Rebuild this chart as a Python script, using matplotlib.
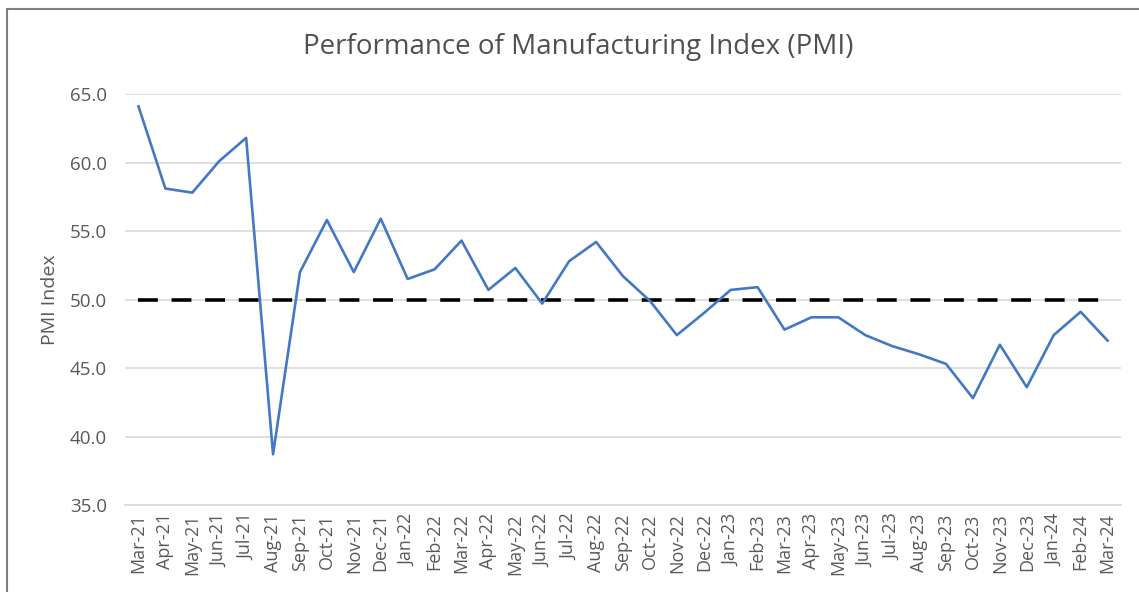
import matplotlib
matplotlib.use('Agg')
from matplotlib import pyplot as plt
from matplotlib.patches import Rectangle

plt.rcParams['font.family'] = ['Open Sans', 'DejaVu Sans']

months = ['Mar-21', 'Apr-21', 'May-21', 'Jun-21', 'Jul-21', 'Aug-21', 'Sep-21', 'Oct-21',
          'Nov-21', 'Dec-21', 'Jan-22', 'Feb-22', 'Mar-22', 'Apr-22', 'May-22', 'Jun-22',
          'Jul-22', 'Aug-22', 'Sep-22', 'Oct-22', 'Nov-22', 'Dec-22', 'Jan-23', 'Feb-23',
          'Mar-23', 'Apr-23', 'May-23', 'Jun-23', 'Jul-23', 'Aug-23', 'Sep-23', 'Oct-23',
          'Nov-23', 'Dec-23', 'Jan-24', 'Feb-24', 'Mar-24']
pmi = [64.1, 58.1, 57.8, 60.1, 61.8, 38.7, 52.0, 55.8, 52.0, 55.9, 51.5, 52.2,
       54.3, 50.7, 52.3, 49.7, 52.8, 54.2, 51.7, 49.9, 47.4, 49.0, 50.7, 50.9,
       47.8, 48.7, 48.7, 47.4, 46.6, 46.0, 45.3, 42.8, 46.7, 43.6, 47.4, 49.1, 47.0]
threshold = 50.0
yticks = [35, 40, 45, 50, 55, 60, 65]

fig = plt.figure(figsize=(11.39, 5.92), dpi=100)
# frame around the chart area (only left/top show in the crop)
fig.patches.append(Rectangle((7 / 1139, -0.1), 1.2, 1 - 9 / 592 + 0.1, transform=fig.transFigure,
                             fill=False, edgecolor='#7f7f7f', linewidth=1.5))

ax = fig.add_axes([125 / 1139, 1 - 505 / 592, (1121 - 125) / 1139, (505 - 94) / 592])
x = list(range(len(months)))
ax.plot(x, pmi, color='#4279C2', linewidth=1.9, zorder=3)
ax.plot([-0.03, len(months) - 0.97], [threshold, threshold], color='black', linewidth=2.6,
        dashes=(5.5, 3.8), zorder=2)

ax.set_xlim(-0.5, len(months) - 0.5)
ax.set_ylim(35, 65)
ax.set_yticks(yticks)
ax.set_yticklabels([f'{v:.1f}' for v in yticks])
ax.set_xticks(x)
ax.set_xticklabels(months, rotation=90)
ax.grid(axis='y', color='#d9d9d9', linewidth=1.2)
ax.set_axisbelow(True)
for s in ['top', 'right', 'left']:
    ax.spines[s].set_visible(False)
ax.spines['bottom'].set_color('#d9d9d9')
ax.spines['bottom'].set_linewidth(1.2)
ax.tick_params(axis='both', length=0, colors='#595959')
ax.tick_params(axis='y', pad=13, labelsize=13.5)
ax.tick_params(axis='x', pad=6, labelsize=13)
ax.set_ylabel('PMI Index', fontsize=14, color='#595959')
ax.yaxis.set_label_coords(-0.066, 0.5)

fig.text(578 / 1139, 1 - 47 / 592, 'Performance of Manufacturing Index (PMI)', ha='center', va='center',
         fontsize=20, color='#505050')

fig.savefig('out.png', dpi=100)
